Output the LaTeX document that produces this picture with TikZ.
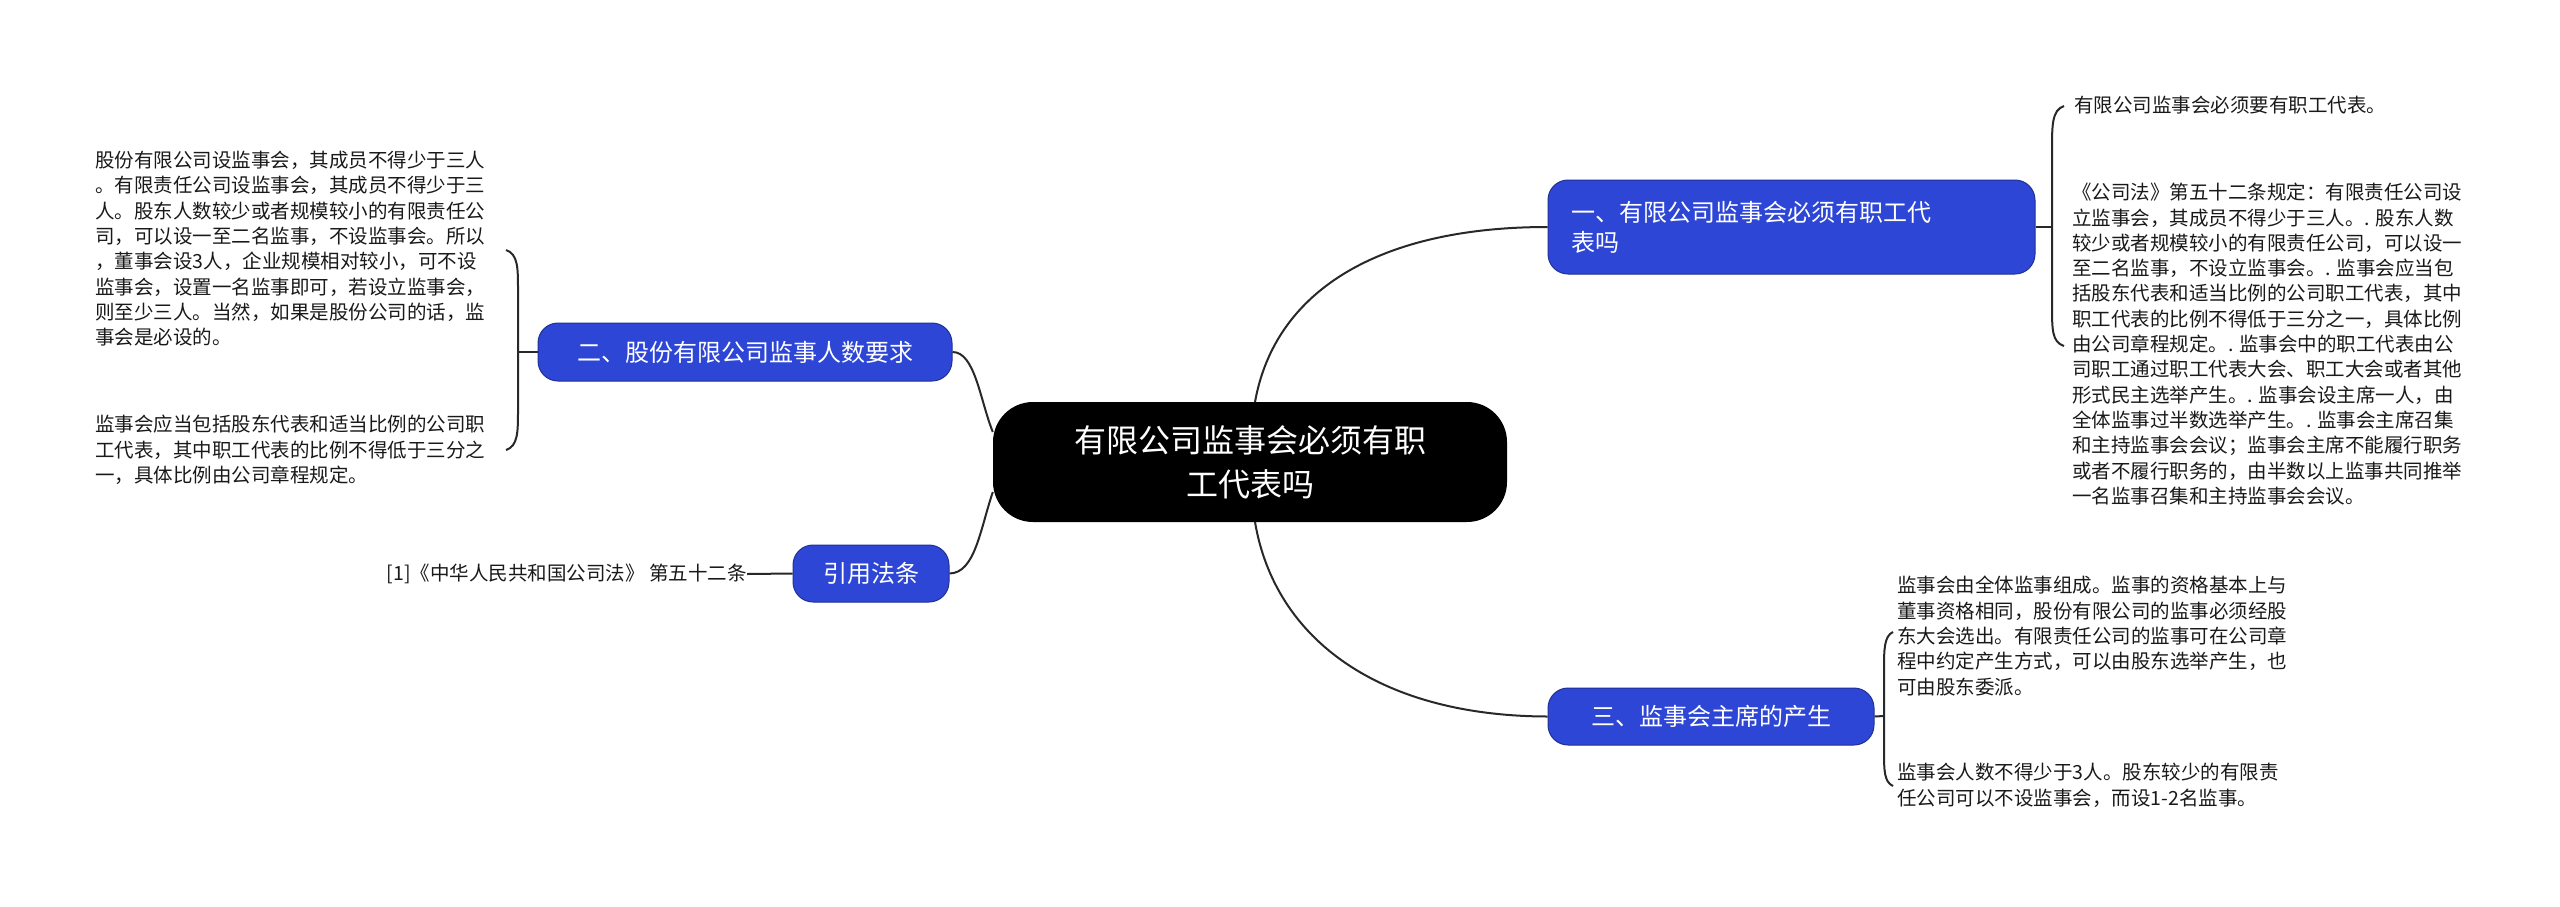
\documentclass[tikz,border=0pt]{standalone}
\usepackage{fontspec}
\setmainfont{Noto Sans CJK SC}
\definecolor{bblue}{RGB}{46,70,214}
\definecolor{lnc}{RGB}{40,40,40}
\begin{document}
\begin{tikzpicture}[x=1pt,y=-1pt,
  leaf/.style={anchor=north west,inner sep=0pt,align=left,font=\fontsize{19.5}{25.3}\selectfont,text=black!90},
  branch/.style={fill=bblue,draw=bblue!70!black,line width=1pt,rounded corners=20pt,text=white,font=\fontsize{24}{30}\selectfont,align=left,inner xsep=0pt,inner ysep=0pt},
  conn/.style={draw=lnc,line width=2pt}]
\useasboundingbox (0,0) rectangle (2560,906);
\node[fill=black,rounded corners=40pt,minimum width=514pt,minimum height=120pt,text=white,font=\fontsize{32}{44}\selectfont,align=center] (c) at (1250,462) {有限公司监事会必须有职\\工代表吗};
\node[branch,minimum width=487pt,minimum height=94pt,text width=440pt] (b1) at (1791.5,227) {一、有限公司监事会必须有职工代\\表吗};
\node[branch,minimum width=414pt,minimum height=58pt,align=center] (b2) at (745,352) {二、股份有限公司监事人数要求};
\node[branch,minimum width=156pt,minimum height=57pt,align=center] (b4) at (871,573.5) {引用法条};
\node[branch,minimum width=326pt,minimum height=57pt,align=center] (b3) at (1711,716.5) {三、监事会主席的产生};
% leaves
\node[leaf] (l1a) at (2074,96) {有限公司监事会必须要有职工代表。};
\node[leaf] (l1b) at (2072,183) {《公司法》第五十二条规定：有限责任公司设\\立监事会，其成员不得少于三人。. 股东人数\\较少或者规模较小的有限责任公司，可以设一\\至二名监事，不设立监事会。. 监事会应当包\\括股东代表和适当比例的公司职工代表，其中\\职工代表的比例不得低于三分之一，具体比例\\由公司章程规定。. 监事会中的职工代表由公\\司职工通过职工代表大会、职工大会或者其他\\形式民主选举产生。. 监事会设主席一人，由\\全体监事过半数选举产生。. 监事会主席召集\\和主持监事会会议；监事会主席不能履行职务\\或者不履行职务的，由半数以上监事共同推举\\一名监事召集和主持监事会会议。};
\node[leaf] (l2a) at (95,151) {股份有限公司设监事会，其成员不得少于三人\\。有限责任公司设监事会，其成员不得少于三\\人。股东人数较少或者规模较小的有限责任公\\司，可以设一至二名监事，不设监事会。所以\\，董事会设3人，企业规模相对较小，可不设\\监事会，设置一名监事即可，若设立监事会，\\则至少三人。当然，如果是股份公司的话，监\\事会是必设的。};
\node[leaf] (l2b) at (95,415) {监事会应当包括股东代表和适当比例的公司职\\工代表，其中职工代表的比例不得低于三分之\\一，具体比例由公司章程规定。};
\node[leaf,anchor=east] (l4) at (747,574) {[1]《中华人民共和国公司法》 第五十二条};
\node[leaf] (l3a) at (1897,576) {监事会由全体监事组成。监事的资格基本上与\\董事资格相同，股份有限公司的监事必须经股\\东大会选出。有限责任公司的监事可在公司章\\程中约定产生方式，可以由股东选举产生，也\\可由股东委派。};
\node[leaf] (l3b) at (1897,763) {监事会人数不得少于3人。股东较少的有限责\\任公司可以不设监事会，而设1-2名监事。};
% center connectors
\draw[conn] (1255,402) .. controls (1275,290) and (1380,227) .. (b1.west);
\draw[conn] (1255,522) .. controls (1275,640) and (1380,716) .. (b3.west);
\draw[conn] (c.west) ++(0,-30) .. controls (980,400) and (975,352) .. (b2.east);
\draw[conn] (c.west) ++(0,30) .. controls (980,530) and (975,573) .. (b4.east);
% brackets
\coordinate (k1) at (2052,227);
\draw[conn] (b1.east) -- (k1);
\draw[conn] (2064,106) .. controls (2052,110) and (2052,125) .. (2052,150) -- (2052,305) .. controls (2052,330) and (2052,342) .. (2064,346);
\coordinate (k2) at (518,352);
\draw[conn] (b2.west) -- (k2);
\draw[conn] (506,250) .. controls (518,254) and (518,268) .. (518,290) -- (518,410) .. controls (518,432) and (518,446) .. (506,450);
\coordinate (k3) at (1874,716);
\draw[conn] (b3.east) -- (1884,716);
\draw[conn] (1893,632) .. controls (1884,636) and (1884,650) .. (1884,670) -- (1884,750) .. controls (1884,770) and (1884,782) .. (1893,786);
\draw[conn] (l4.east) -- (b4.west);
\end{tikzpicture}
\end{document}
